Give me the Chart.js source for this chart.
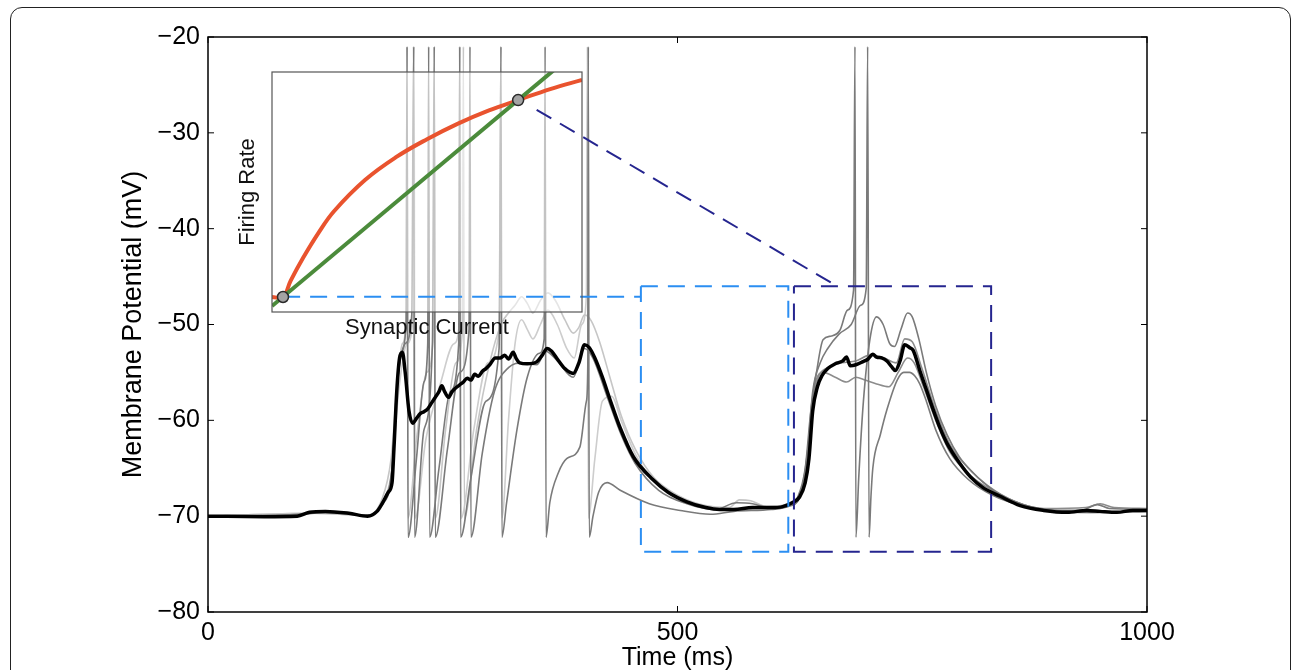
<!DOCTYPE html>
<html>
<head>
<meta charset="utf-8">
<script src="https://cdn.jsdelivr.net/npm/chart.js@4.4.1/dist/chart.umd.min.js"></script>
<style>
    html, body { margin: 0; padding: 0; background: #fff; overflow: hidden; }
    #wrap { position: relative; width: 1293px; height: 670px; }
    #frame { position: absolute; left: 10px; top: 7px; width: 1281px; height: 720px;
             border: 1.5px solid #222; border-radius: 12px; box-sizing: border-box; }
    canvas { position: absolute; left: 0; top: 0; }
</style>
</head>
<body>
<div id="wrap">
    <div id="frame"></div>
    <canvas id="main" width="1293" height="670"></canvas>
    <canvas id="inset" width="1293" height="670"></canvas>
</div>
<script>
// Axis ranges and ticks
const timeTicks = [0, 500, 1000];
const voltTicks = [-80, -70, -60, -50, -40, -30, -20];

// Mean membrane potential (thick black), [time ms, mV]
const meanTrace = [[0,-70],[60,-70.05],[95,-70],[108,-69.6],[125,-69.5],[150,-69.7],[170,-70],[180,-69.5],[186,-68.6],[192,-67.5],[196,-66.5],[198,-63],[201,-57],[204,-53.5],[207,-52.9],[210,-55],[214,-59],[218,-60.3],[222,-59.8],[226,-59.3],[230,-59.1],[234,-58.8],[238,-58.2],[242,-57.6],[246,-57],[249,-56.4],[252,-57],[256,-57.6],[260,-57],[264,-56.6],[268,-56.3],[272,-56],[276,-55.6],[280,-55.8],[284,-55.2],[288,-55.4],[292,-54.9],[296,-54.6],[300,-54.2],[306,-53.5],[311,-53.5],[316,-53.2],[320,-53.6],[325,-52.9],[328,-53.5],[332,-54],[340,-54.1],[350,-53.9],[356,-53.2],[361,-52.5],[366,-52.8],[372,-53.6],[380,-54.6],[389,-55.1],[395,-54],[401,-52.1],[406,-52.4],[412,-53.5],[420,-55.5],[428,-57.8],[439,-60.8],[453,-63.8],[474,-66.2],[490,-67.5],[510,-68.5],[530,-69.1],[545,-69.3],[560,-69.3],[580,-69.1],[600,-69.1],[612,-69],[622,-68.6],[630,-68],[636,-66.5],[640,-64],[644,-59],[649,-56.5],[654,-55.3],[660,-54.6],[668,-54.1],[676,-53.8],[680,-53.4],[684,-54.3],[690,-54.2],[697,-53.9],[703,-53.6],[708,-53.1],[712,-53.4],[718,-53.5],[723,-53.8],[728,-54.4],[732,-54.8],[737,-53.8],[742,-52.1],[747,-52.4],[751,-52.7],[758,-54.8],[765,-56.8],[772,-58.8],[780,-60.9],[787,-62.4],[800,-64.4],[812,-65.9],[825,-67],[843,-67.9],[865,-68.9],[890,-69.4],[915,-69.6],[936,-69.4],[950,-69.5],[968,-69.6],[985,-69.4],[1000,-69.4]];

// Single trials (dark gray)
const trialA = [[0,-70],[100,-69.8],[125,-69.5],[170,-69.9],[185,-68.8],[195,-66],[200,-59],[205,-53],[211,-50],[212,-21],[213,-72.2],[222,-64],[230,-56],[234,-52],[235,-21],[236,-72.2],[246,-65],[258,-57],[267,-52],[268,-21],[269,-72.2],[280,-66],[296,-58],[310,-52.5],[312,-21],[313,-72.2],[318,-68.6],[329,-61],[340,-55.5],[353,-53],[358,-51.5],[359,-21],[360,-72.2],[364,-68.6],[373,-65.5],[382,-64],[396,-62.8],[403,-58],[404.5,-54],[405,-21],[406,-72.2],[410,-70],[416,-67.5],[425,-66.5],[439,-67.3],[470,-68.7],[503,-69.4],[535,-69.8],[560,-69.5],[600,-69.3],[618,-69],[630,-68],[638,-64],[644,-57],[652,-54],[660,-52.5],[672,-51],[685,-50],[695,-48],[701,-46.2],[702.5,-21],[704,-72.2],[706,-68],[708,-65],[716,-61.5],[723,-58.9],[734,-55.8],[741,-55],[747,-55],[753,-55.4],[758,-56.2],[765,-58],[775,-61],[790,-64],[810,-66.2],[835,-67.8],[870,-69],[900,-69.5],[940,-69.6],[1000,-69.5]];
const trialB = [[0,-70],[100,-69.8],[125,-69.6],[170,-69.9],[186,-68.5],[196,-65],[202,-56],[210,-52],[217,-49],[219,-21],[220,-72.2],[230,-61],[239,-52],[241,-21],[242,-72.2],[255,-63],[268,-55],[278,-50.5],[279,-21],[280,-72.2],[292,-63.5],[305,-57],[320,-54.5],[335,-54],[350,-54.2],[360,-52.8],[372,-53.8],[389,-55.5],[401,-52.5],[410,-53.5],[425,-57.5],[440,-61.5],[455,-64.5],[480,-67.3],[510,-68.7],[540,-69.3],[563,-68.6],[580,-68.7],[600,-69.2],[615,-69],[628,-68],[636,-65],[642,-59],[648,-55],[655,-51.6],[664,-51.2],[673,-50.6],[681,-48.5],[687.5,-46.4],[689,-21],[690,-72.2],[693,-66],[698,-58],[705,-51.5],[712,-49.2],[719,-50],[726,-52],[731,-52.3],[738,-50.5],[745,-48.8],[750,-49.2],[757,-51.5],[765,-55],[775,-58.5],[787,-61.5],[800,-63.8],[815,-65.5],[835,-67.2],[860,-68.5],[890,-69.3],[930,-69.4],[947,-68.8],[960,-69.2],[1000,-69.3]];

// Single trials (light gray in the first window)
const trialC = [[0,-70],[110,-69.7],[170,-69.9],[185,-68.3],[195,-64],[201,-57],[207,-52],[211,-49.5],[212,-21],[213,-70.2],[222,-62],[233,-55],[240,-51],[241,-21],[242,-70.2],[253,-61],[264,-54],[271,-50.5],[272,-21],[273,-70.2],[286,-61],[300,-54],[312,-50],[320,-48.8],[327,-48],[334,-47.1],[340,-47.8],[346,-48.8],[354,-47.5],[362,-46.7],[370,-47.5],[380,-49.5],[389,-50.9],[395,-50.3],[401,-49],[408,-49.6],[417,-51.8],[428,-55.5],[440,-59.5],[455,-63],[475,-66],[500,-67.8],[530,-68.9],[555,-69.1],[566,-68.3],[578,-68.4],[595,-69],[615,-68.8],[630,-67.8],[638,-64],[644,-58],[650,-55.5],[660,-54.5],[675,-54],[690,-53.8],[705,-53.2],[720,-53.5],[733,-54],[742,-51.5],[750,-51.8],[760,-54.5],[775,-59],[790,-62.5],[810,-65],[830,-66.8],[860,-68.5],[890,-69.2],[935,-69.1],[950,-68.7],[965,-69.1],[1000,-69.2]];
const trialD = [[0,-70],[110,-69.7],[170,-69.9],[186,-68.5],[196,-65],[203,-57],[212,-52],[218.5,-49],[219.5,-21],[220.5,-70.2],[232,-62],[248,-56],[262,-52],[267.5,-50],[268.5,-21],[269.5,-70.2],[283,-61],[298,-54],[310,-50.5],[312,-21],[313,-70.2],[320,-60],[327,-52],[334,-49.5],[340,-50.5],[346,-51.5],[354,-50],[362,-48.5],[372,-50],[382,-52.5],[390,-53.5],[398,-50],[403,-47],[404,-21],[405,-70.2],[412,-64],[420,-58],[430,-57.5],[440,-60],[455,-63.5],[475,-66.4],[500,-68],[530,-69],[560,-69.3],[600,-69.2],[620,-68.9],[632,-67.5],[640,-62],[646,-56.5],[655,-55],[668,-55.5],[680,-56],[690,-55.5],[700,-55.8],[712,-56.2],[725,-56.5],[735,-55],[745,-53.5],[752,-54],[762,-56.5],[775,-60],[790,-63.3],[810,-65.6],[835,-67.3],[865,-68.7],[900,-69.4],[950,-69.6],[1000,-69.4]];

// Highlighted windows (dashed boxes) and links to the inset
const boxLightT = [461, 618];
const boxDarkT = [624, 834];
const boxV = [-73.7, -46.0];
const linkLight = [[80, -47.1], [461, -47.1]];
const linkDark = [[350, -27.6], [670, -46.0]];

// Inset: firing rate vs synaptic current (unit axes)
const gainCurve = [[0,0.0625],[0.0355,0.0625],[0.06,0.13],[0.1,0.225],[0.15,0.33],[0.2,0.42],[0.3,0.55],[0.4,0.645],[0.5,0.72],[0.6,0.785],[0.7,0.84],[0.794,0.883],[0.9,0.93],[1.0,0.967]];
const linearLine = [[0,0.0247],[0.95,1.052]];
const fixedPoints = [[0.0355,0.0625],[0.794,0.883]];

const FONT = "'Liberation Sans', Arial, Helvetica, sans-serif";
const INSET = { left: 272, top: 72, right: 582, bottom: 312 };

function toXY(pairs) {
    return pairs.map(p => ({ x: p[0], y: p[1] }));
}

function boxPath(ts, vs) {
    return [[ts[0], vs[1]], [ts[1], vs[1]], [ts[1], vs[0]], [ts[0], vs[0]], [ts[0], vs[1]]];
}

// box round the plot area plus inward tick marks
const axesFrame = {
    id: 'axesFrame',
    afterDraw(chart, args, opts) {
        const { ctx, chartArea: a } = chart;
        ctx.save();
        ctx.strokeStyle = opts.color;
        ctx.lineWidth = opts.width;
        ctx.strokeRect(a.left, a.top, a.right - a.left, a.bottom - a.top);
        if (opts.tickLen) {
            const xs = chart.scales.x, ys = chart.scales.y;
            ctx.beginPath();
            xs.ticks.forEach(t => {
                const px = xs.getPixelForValue(t.value);
                ctx.moveTo(px, a.bottom); ctx.lineTo(px, a.bottom - opts.tickLen);
                ctx.moveTo(px, a.top); ctx.lineTo(px, a.top + opts.tickLen);
            });
            ys.ticks.forEach(t => {
                const py = ys.getPixelForValue(t.value);
                ctx.moveTo(a.left, py); ctx.lineTo(a.left + opts.tickLen, py);
                ctx.moveTo(a.right, py); ctx.lineTo(a.right - opts.tickLen, py);
            });
            ctx.lineWidth = 1;
            ctx.stroke();
        }
        ctx.restore();
    }
};

// the inset axes have a half see-through white background
const insetShade = {
    id: 'insetShade',
    beforeDatasetDraw(chart, args) {
        if (chart.data.datasets[args.index].label !== 'Mean') return;
        const ctx = chart.ctx;
        ctx.save();
        ctx.fillStyle = 'rgba(255,255,255,0.55)';
        ctx.fillRect(INSET.left, INSET.top, INSET.right - INSET.left, INSET.bottom - INSET.top);
        ctx.restore();
    }
};

function traceSet(label, pairs, color, width, order, laterColor) {
    const ds = {
        label: label,
        data: toXY(pairs),
        borderColor: color,
        borderWidth: width,
        pointRadius: 0,
        cubicInterpolationMode: 'monotone',
        fill: false,
        order: order
    };
    if (laterColor) {
        // second stimulus: these trials look mid gray there
        ds.segment = { borderColor: c => (c.p0.parsed.x >= 600 ? laterColor : undefined) };
    }
    return ds;
}

function dashSet(label, pairs, color) {
    return {
        label: label,
        data: toXY(pairs),
        borderColor: color,
        borderWidth: 2,
        borderDash: [17, 10],
        pointRadius: 0,
        tension: 0,
        fill: false,
        order: 0
    };
}

const mainChart = new Chart(document.getElementById('main'), {
    type: 'line',
    data: {
        datasets: [
            dashSet('Window 1', boxPath(boxLightT, boxV), '#2b8ef2'),
            dashSet('Link 1', linkLight, '#2b8ef2'),
            dashSet('Window 2', boxPath(boxDarkT, boxV), '#25258f'),
            dashSet('Link 2', linkDark, '#25258f'),
            traceSet('Mean', meanTrace, '#000000', 3.5, 1),
            traceSet('Trial A', trialA, '#7a7a7a', 1.6, 2),
            traceSet('Trial B', trialB, '#7a7a7a', 1.6, 2),
            traceSet('Trial C', trialC, '#c6c6c6', 1.6, 3, '#8c8c8c'),
            traceSet('Trial D', trialD, '#cdcdcd', 1.6, 3, '#8c8c8c')
        ]
    },
    options: {
        responsive: false,
        animation: false,
        layout: { padding: { left: 108, top: 37, right: 146, bottom: 0 } },
        plugins: {
            legend: { display: false },
            tooltip: { enabled: false },
            axesFrame: { color: '#000', width: 1.5, tickLen: 6 }
        },
        scales: {
            x: {
                type: 'linear', min: 0, max: 1000,
                afterFit: s => { s.height = 58; },
                afterBuildTicks: s => { s.ticks = timeTicks.map(v => ({ value: v })); },
                ticks: { padding: 6, color: '#000', maxRotation: 0, font: { family: FONT, size: 25 },
                         callback: v => String(v) },
                grid: { display: false, drawTicks: false },
                border: { display: false },
                title: { display: true, text: 'Time (ms)', color: '#000',
                         font: { family: FONT, size: 25 }, padding: { top: 0, bottom: -3 } }
            },
            y: {
                type: 'linear', min: -80, max: -20,
                afterFit: s => { s.width = 100; },
                afterBuildTicks: s => { s.ticks = voltTicks.map(v => ({ value: v })); },
                ticks: { padding: 8, color: '#000', font: { family: FONT, size: 25 },
                         callback: v => String(v).replace('-', '\u2212') },
                grid: { display: false, drawTicks: false },
                border: { display: false },
                title: { display: true, text: 'Membrane Potential (mV)', color: '#000',
                         font: { family: FONT, size: 27 }, padding: { top: 9, bottom: 0 } }
            }
        }
    },
    plugins: [axesFrame, insetShade]
});

const insetChart = new Chart(document.getElementById('inset'), {
    type: 'line',
    data: {
        datasets: [
            {
                label: 'Fixed points', data: toXY(fixedPoints), showLine: false,
                pointRadius: 5.5, pointBackgroundColor: '#a3a3a3', pointBorderColor: '#2a2a2a',
                pointBorderWidth: 1.5, order: 0
            },
            {
                label: 'Linear', data: toXY(linearLine), borderColor: '#4b8b3b', borderWidth: 4,
                pointRadius: 0, tension: 0, order: 1
            },
            {
                label: 'Gain', data: toXY(gainCurve), borderColor: '#e9532e', borderWidth: 4,
                pointRadius: 0, tension: 0.4, order: 2
            }
        ]
    },
    options: {
        responsive: false,
        animation: false,
        layout: { padding: { left: 226, top: INSET.top, right: 1293 - INSET.right, bottom: 670 - 344 } },
        plugins: {
            legend: { display: false },
            tooltip: { enabled: false },
            axesFrame: { color: '#555', width: 1.2, tickLen: 0 }
        },
        scales: {
            x: {
                type: 'linear', min: 0, max: 1,
                afterFit: s => { s.height = 32; },
                ticks: { display: false },
                grid: { display: false, drawTicks: false },
                border: { display: false },
                title: { display: true, text: 'Synaptic Current', color: '#111',
                         font: { family: FONT, size: 22 }, padding: { top: 0, bottom: 3 } }
            },
            y: {
                type: 'linear', min: 0, max: 1,
                afterFit: s => { s.width = 46; },
                ticks: { display: false },
                grid: { display: false, drawTicks: false },
                border: { display: false },
                title: { display: true, text: 'Firing Rate', color: '#111',
                         font: { family: FONT, size: 22 }, padding: { top: 9, bottom: 0 } }
            }
        }
    },
    plugins: [axesFrame]
});
</script>
</body>
</html>
